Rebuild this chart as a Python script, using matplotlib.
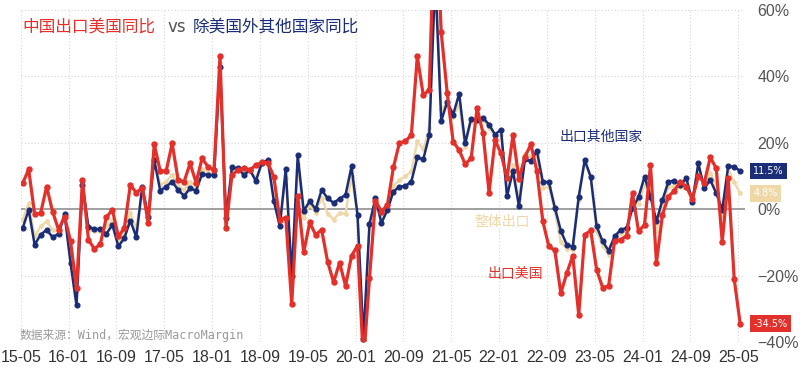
import numpy as np
import matplotlib
matplotlib.use('Agg')
import matplotlib.pyplot as plt

plt.rcParams['font.family'] = ['Noto Sans CJK SC', 'DejaVu Sans']

tick_labels = ['15-05', '16-01', '16-09', '17-05', '18-01', '18-09', '19-05', '20-01',
               '20-09', '21-05', '22-01', '22-09', '23-05', '24-01', '24-09', '25-05']

# 中国出口美国同比 (%)
us_yoy = [7.8, 12.0, -1.5, -1.2, 6.8, -0.7, -6.2, -2.2, -9.6, -23.8,
          8.8, -9.2, -12.0, -10.4, -2.4, -0.2, -8.2, -5.7, 7.3, 5.0,
          6.5, -4.2, 19.6, 11.5, 11.5, 19.8, 8.8, 8.3, 13.8, 8.0,
          15.3, 12.8, 11.8, 46.0, -5.6, 10.3, 11.8, 12.5, 11.8, 13.3,
          14.1, 14.0, 9.8, -3.2, -2.5, -28.5, 4.0, -13.0, -4.0, -7.7,
          -6.2, -15.8, -22.0, -16.1, -23.1, -14.0, -11.0, -46.0, -20.8, 2.6,
          -0.7, 1.3, 12.6, 19.9, 20.5, 22.3, 46.0, 34.3, 36.0, 95.0,
          53.3, 35.0, 20.3, 17.8, 13.6, 15.3, 30.4, 22.9, 5.0, 20.8,
          16.8, 9.3, 22.3, 9.0, 15.8, 19.5, 11.5, -3.7, -11.2, -12.4,
          -25.3, -19.3, -14.0, -31.8, -7.7, -6.4, -18.3, -23.6, -23.1, -9.5,
          -9.2, -8.0, 4.8, -6.7, -4.7, 13.3, -16.1, -1.7, 3.8, 5.6,
          8.3, 6.8, 3.0, 10.0, 8.0, 15.6, 12.3, -9.9, 9.3, -21.0, -34.5]

# 除美国外其他国家同比 (%)
other_yoy = [-5.7, -0.2, -10.7, -7.7, -6.2, -8.4, -7.4, -1.5, -16.2, -29.0,
             7.3, -5.4, -5.9, -6.0, -7.4, -4.7, -11.2, -8.7, -3.4, -8.4,
             6.8, -2.2, 14.8, 5.6, 6.8, 8.3, 5.8, 4.0, 6.3, 5.6,
             10.6, 10.3, 10.3, 42.9, -2.7, 12.6, 12.3, 10.3, 11.8, 8.5,
             14.0, 14.7, 2.5, -5.1, 12.2, -20.0, 16.2, -0.5, 2.4, 0.0,
             5.8, 3.3, 1.9, 3.2, 4.3, 12.9, -1.7, -39.0, -4.4, 3.3,
             -4.2, -0.2, 5.3, 6.8, 7.0, 8.3, 15.6, 15.0, 22.3, 70.0,
             26.6, 32.3, 28.5, 34.8, 19.8, 27.3, 26.8, 27.5, 25.5, 22.5,
             24.0, 4.0, 11.5, 0.9, 15.0, 14.5, 17.6, 8.2, 8.2, 0.5,
             -6.5, -10.7, -11.3, 3.8, 14.8, 9.8, -5.2, -9.7, -12.5, -8.2,
             -6.2, -5.7, 0.3, 3.6, 9.8, 3.8, -3.7, 2.8, 8.3, 8.6,
             7.3, 9.3, 2.3, 13.8, 6.3, 8.8, 4.8, -0.2, 13.0, 12.8, 11.5]

# 整体出口同比 (%)
total_yoy = [-3.2, 1.8, -8.2, -5.2, -3.7, -6.2, -6.7, -1.7, -13.2, -24.5,
             8.3, -6.2, -6.7, -6.7, -5.2, -3.2, -9.7, -7.4, -1.0, -6.0,
             6.8, -2.5, 16.0, 7.3, 8.3, 10.3, 7.0, 5.8, 8.3, 6.8,
             12.0, 11.0, 10.8, 44.0, -2.9, 12.0, 12.2, 10.8, 11.8, 9.5,
             13.5, 14.5, 4.0, -4.5, 9.5, -20.5, 13.5, -2.5, 1.3, -1.0,
             3.5, -1.3, -3.1, -1.1, -1.4, 10.0, -2.3, -40.0, -5.5, 3.0,
             -2.8, 0.5, 7.0, 8.8, 9.9, 11.4, 20.5, 18.0, 24.4, 75.0,
             30.3, 31.8, 27.8, 31.5, 18.8, 26.3, 27.8, 27.0, 24.6, 21.8,
             22.3, 5.6, 13.3, 3.0, 16.6, 16.0, 16.3, 6.3, 6.8, -0.4,
             -10.0, -12.0, -12.2, 2.8, 14.3, 9.3, -6.7, -11.2, -13.7, -9.7,
             -7.2, -6.7, 1.8, 1.5, 7.3, 5.3, -6.7, 0.8, 6.6, 7.0,
             6.8, 8.8, 2.3, 12.3, 7.0, 11.0, 7.3, -2.0, 12.3, 8.1, 4.8]

RED = '#E3302A'
NAVY = '#1B2D76'
BEIGE = '#EFD7A6'

fig = plt.figure(figsize=(8, 3.72), dpi=100)
ax = fig.add_axes([0.0259, 0.0806, 0.9053, 0.8925])

x = np.arange(len(us_yoy))
ax.plot(x, total_yoy, color=BEIGE, lw=1.7, marker='o', ms=2.4, zorder=3)
ax.plot(x, other_yoy, color=NAVY, lw=1.8, marker='o', ms=3.4, zorder=4)
ax.plot(x, us_yoy, color=RED, lw=2.3, marker='o', ms=3.6, zorder=5)

ax.set_xlim(-0.33, 120.8)
ax.set_ylim(-40, 60)
ax.set_xticks(np.arange(0, len(us_yoy), 8) - 0.33)
ax.set_xticklabels(tick_labels, family='Liberation Sans')
yt = [-40, -20, 0, 20, 40, 60]
ax.set_yticks(yt)
ax.set_yticklabels([f'{v}%'.replace('-', '\u2212') for v in yt], family='Liberation Sans')
ax.yaxis.tick_right()
ax.tick_params(axis='y', length=0, pad=9, labelsize=11.5, labelcolor='#555555')
ax.tick_params(axis='x', length=0, pad=6, labelsize=11.5, labelcolor='#333333')
ax.grid(True, ls=(0, (1, 2)), color='#d5d5d5', lw=0.8)
ax.axhline(0, color='#999999', lw=1.3, zorder=2)
for s in ax.spines.values():
    s.set_visible(False)

# end-value boxes
for vals, col in [(other_yoy, NAVY), (total_yoy, BEIGE), (us_yoy, RED)]:
    v = vals[-1]
    ax.annotate(f'{v}%', xy=(1.0, v), xycoords=('axes fraction', 'data'),
                xytext=(6, 0), textcoords='offset points', ha='left', va='center',
                fontsize=7, color='white', family='DejaVu Sans',
                bbox=dict(boxstyle='square,pad=0.35', fc=col, ec='none'),
                annotation_clip=False, zorder=10)

# series labels
ax.text(96.7, 21.8, '出口其他国家', color=NAVY, fontsize=10, ha='center', va='center')
ax.text(80.2, -4.0, '整体出口', color=BEIGE, fontsize=10, ha='center', va='center')
ax.text(82.4, -19.5, '出口美国', color=RED, fontsize=10, ha='center', va='center')

# title
ty = 1 - 27 / 372
fig.text(22 / 800, ty, '中国出口美国同比', color=RED, fontsize=12, va='center')
fig.text(167 / 800, ty, 'vs', color='#555555', fontsize=12, va='center', family='DejaVu Sans')
fig.text(193 / 800, ty, '除美国外其他国家同比', color=NAVY, fontsize=12, va='center')

# source
fig.text(20 / 800, 1 - 335 / 372, '数据来源：Wind，宏观边际MacroMargin', color='#9a9a9a',
         fontsize=8.5, va='center', family=['DejaVu Sans Mono', 'Noto Sans CJK SC'])

fig.savefig('out.png', dpi=100)
